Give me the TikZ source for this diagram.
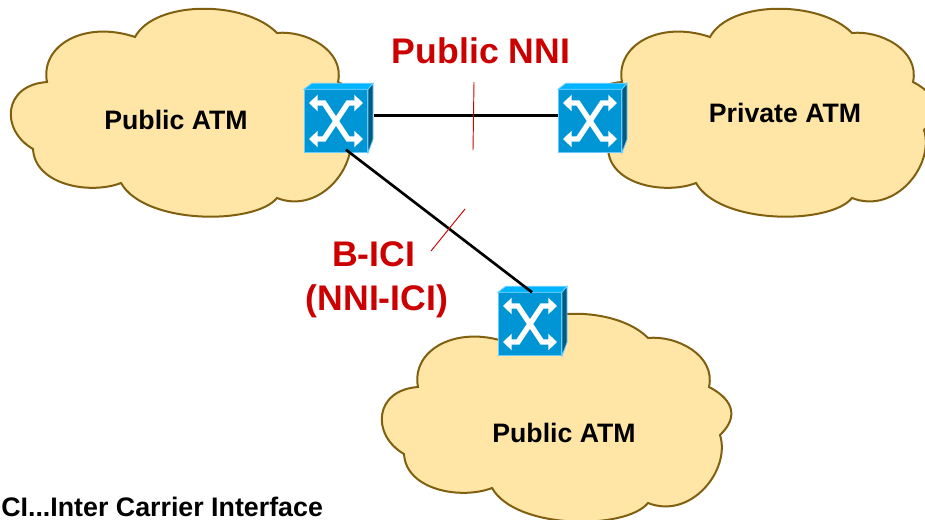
\documentclass[tikz,border=0pt]{standalone}
\usepackage{fontspec}
\setmainfont{Liberation Sans}
\usetikzlibrary{arrows.meta}

\definecolor{cloudfill}{HTML}{FFE6A6}
\definecolor{cloudline}{HTML}{806010}
\definecolor{swfront}{HTML}{0096D6}
\definecolor{swtop}{HTML}{00B4FF}
\definecolor{swside}{HTML}{005A82}
\definecolor{swedge}{HTML}{66CCFF}
\definecolor{labelred}{HTML}{CC0000}

\tikzset{
    cloudpath/.style={draw=cloudline, fill=cloudfill, line width=1.5pt},
    cloudtext/.style={font=\bfseries\fontsize{20pt}{24pt}\selectfont, text=black},
    redtext/.style={font=\bfseries\fontsize{26.7pt}{33pt}\selectfont, text=labelred, align=center},
    notetext/.style={font=\bfseries\fontsize{20.1pt}{24pt}\selectfont, text=black, anchor=base west, inner sep=0pt},
    link/.style={draw=black, line width=2pt},
    tick/.style={draw=labelred, line width=0.7pt},
    swarrow/.style={draw=white, line width=4pt, {Triangle[width=12pt,length=6.5pt]}-{Triangle[width=12pt,length=6.5pt]}},
    swbox/.style={rectangle, draw=swedge, fill=swfront, line width=0.6pt, minimum width=47.5pt, minimum height=47pt, inner sep=0pt},
    pics/atmcloud/.style={code={
        \draw[cloudpath] (135,37) .. controls (155,0) and (245,0) .. (277,33)
            .. controls (305,30) and (345,50) .. (338,82)
            .. controls (350,88) and (375,105) .. (349,130)
            .. controls (360,165) and (320,215) .. (277,198)
            .. controls (255,225) and (145,225) .. (121,183)
            .. controls (90,195) and (35,185) .. (33,149)
            .. controls (0,130) and (3,85) .. (47,82)
            .. controls (40,45) and (85,20) .. (135,37) -- cycle;
    }},
    pics/atmswitch/.style={code={
        \node[swbox] (-front) at (0,0) {};
        \draw[draw=swedge, fill=swtop, line width=0.6pt] (-front.north west) -- ++(8,-6) -- ++(61,0) -- (-front.north east) -- cycle;
        \draw[draw=swedge, fill=swside, line width=0.6pt] (-front.north east) -- ++(5,-6) -- ++(0,56) -- (-front.south east) -- cycle;
        \draw[swarrow] (-27,-18) -- (-12,-18) -- (12,18) -- (27,18);
        \draw[swarrow] (-27,18) -- (-12,18) -- (12,-18) -- (27,-18);
    }}
}

\begin{document}
\begin{tikzpicture}[x=0.75pt, y=-0.75pt]
    \useasboundingbox (0,0) rectangle (925,519);

    \pic at (0,0) {atmcloud};
    \pic at (575,0) {atmcloud};
    \pic at (371,305) {atmcloud};

    \pic (swa) at (336,121) {atmswitch};
    \pic (swb) at (590,121) {atmswitch};
    \pic (swc) at (530,324) {atmswitch};

    \node[cloudtext] (cloudleft) at (176,120) {Public ATM};
    \node[cloudtext] (cloudright) at (785,113) {Private ATM};
    \node[cloudtext] (cloudbottom) at (564,433) {Public ATM};

    \node[redtext] (nnilabel) at (481,51) {Public NNI};
    \node[redtext] (icilabel) at (377,280) {B-ICI\hspace*{5pt}\\(NNI-ICI)};
    \node[notetext] (note) at (1,516) {CI...Inter Carrier Interface};

    \draw[link] ([shift={(6,-5.5)}]swa-front.east) -- ([shift={(0,-5.5)}]swb-front.west);
    \draw[link] ([shift={(10,-3)}]swa-front.south) -- ([shift={(2,0)}]swc-front.north);

    \coordinate (tickatop) at (474,82);
    \coordinate (tickabot) at (473,150);
    \coordinate (tickbtop) at (465,209);
    \coordinate (tickbbot) at (431,251);
    \draw[tick] (tickatop) -- (tickabot);
    \draw[tick] (tickbtop) -- (tickbbot);
\end{tikzpicture}
\end{document}
